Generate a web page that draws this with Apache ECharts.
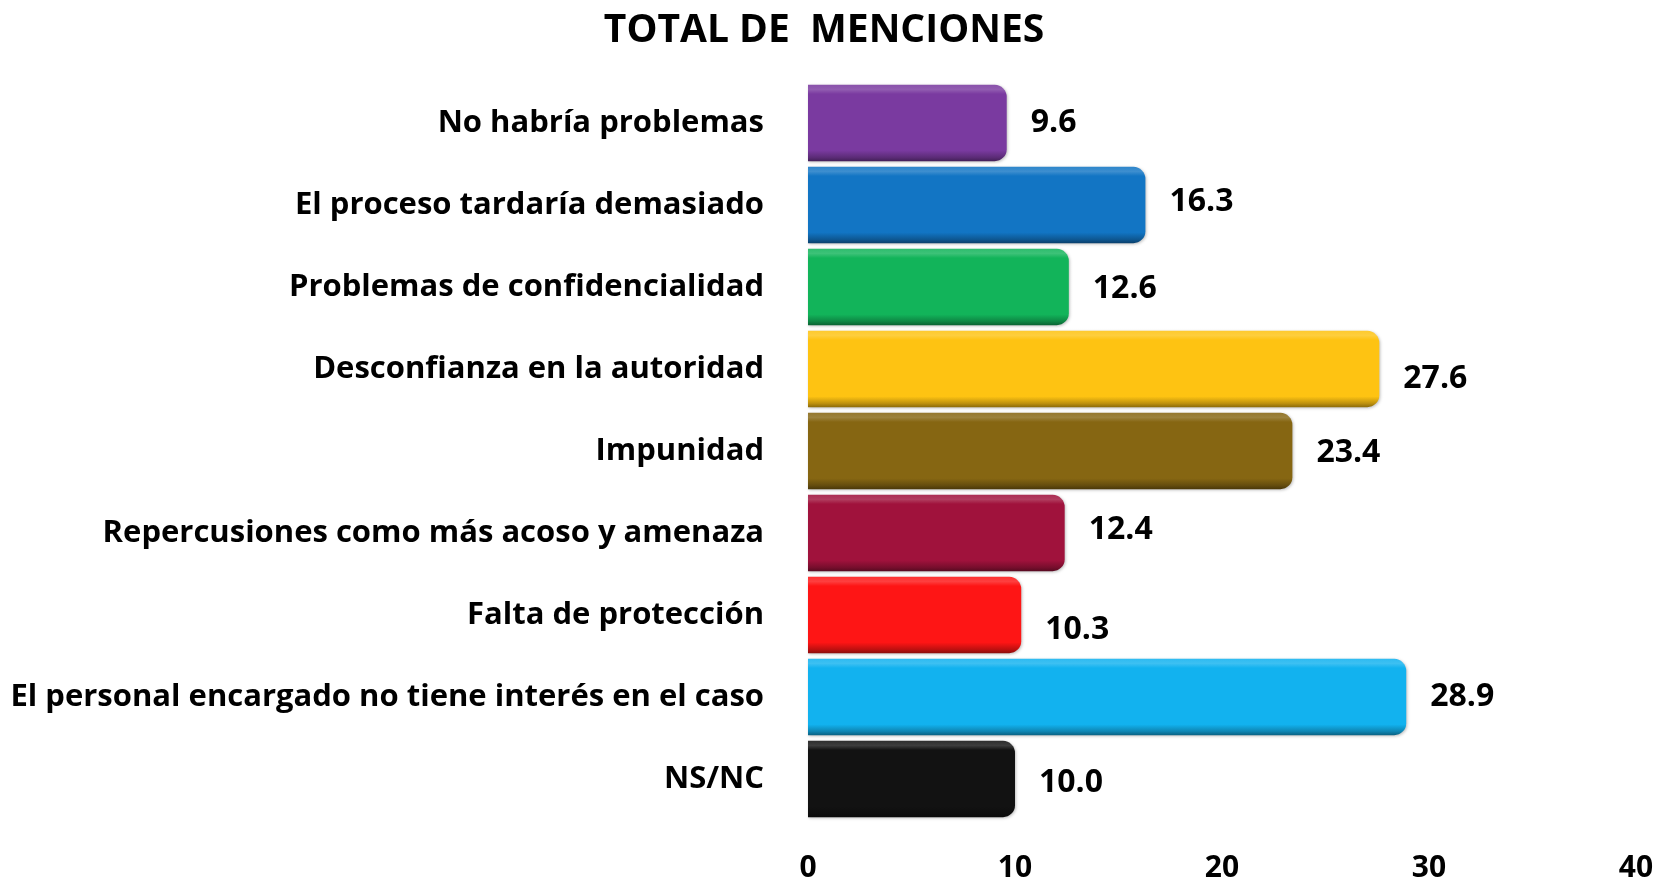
<!DOCTYPE html>
<html>
<head>
<meta charset="utf-8">
<script src="https://cdn.jsdelivr.net/npm/echarts@6/dist/echarts.min.js"></script>
<style>
  html, body { margin: 0; padding: 0; background: #ffffff; }
  #chart { width: 1657px; height: 881px; }
</style>
</head>
<body>
<div id="chart"></div>
<script>
// Reasons for not reporting, share of mentions (%)
const categories = [
  'No habría problemas',
  'El proceso tardaría demasiado',
  'Problemas de confidencialidad',
  'Desconfianza en la autoridad',
  'Impunidad',
  'Repercusiones como más acoso y amenaza',
  'Falta de protección',
  'El personal encargado no tiene interés en el caso',
  'NS/NC'
];
const values = [9.6, 16.3, 12.6, 27.6, 23.4, 12.4, 10.3, 28.9, 10.0];
const xTicks = [0, 10, 20, 30, 40];

// Per-bar fill colours
const barColors = ['#7a3aa0', '#1275c4', '#12b45a', '#fec312', '#866612', '#a0123c', '#fe1515', '#12b2ef', '#121212'];
// Small vertical nudges of the value labels
const labelNudge = [0, -3, 2, 10, 2, -3, 15, 0, 4];

function shade(hex, amt) {
  const n = parseInt(hex.slice(1), 16);
  let r = (n >> 16) & 255, g = (n >> 8) & 255, b = n & 255;
  const f = c => Math.max(0, Math.min(255, Math.round(amt >= 0 ? c + (255 - c) * amt : c * (1 + amt))));
  return 'rgb(' + f(r) + ',' + f(g) + ',' + f(b) + ')';
}

function barFill(c) {
  return new echarts.graphic.LinearGradient(0, 0, 0, 1, [
    { offset: 0, color: shade(c, 0.12) },
    { offset: 0.06, color: shade(c, 0.18) },
    { offset: 0.12, color: c },
    { offset: 0.86, color: c },
    { offset: 0.95, color: shade(c, -0.25) },
    { offset: 1, color: shade(c, -0.45) }
  ]);
}

const FONT = '"Open Sans", "Noto Sans", sans-serif';

const chart = echarts.init(document.getElementById('chart'), null, { renderer: 'canvas' });
chart.setOption({
  animation: false,
  backgroundColor: '#ffffff',
  title: {
    text: 'TOTAL DE  MENCIONES',
    left: 819,
    textAlign: 'center',
    top: 6,
    textStyle: { fontFamily: FONT, fontWeight: 'bold', fontSize: 39, color: '#000' }
  },
  grid: { left: 808, right: 21, top: 82, bottom: 61, containLabel: false, outerBoundsMode: 'none' },
  xAxis: {
    type: 'value',
    min: xTicks[0],
    max: xTicks[xTicks.length - 1],
    interval: xTicks[1] - xTicks[0],
    axisLine: { show: false },
    axisTick: { show: false },
    splitLine: { show: false },
    axisLabel: {
      margin: 33,
      fontFamily: FONT, fontWeight: 'bold', fontSize: 30, color: '#000'
    }
  },
  yAxis: {
    type: 'category',
    inverse: true,
    data: categories,
    axisLine: { show: false },
    axisTick: { show: false },
    axisLabel: {
      margin: 44,
      fontFamily: FONT, fontWeight: 'bold', fontSize: 31, color: '#000'
    }
  },
  series: [{
    type: 'bar',
    barCategoryGap: '7%',
    data: values.map((v, i) => ({
      value: v,
      itemStyle: {
        color: barFill(barColors[i]),
        borderRadius: [0, 12, 12, 0],
        shadowColor: 'rgba(0,0,0,0.25)',
        shadowBlur: 3,
        shadowOffsetX: 1,
        shadowOffsetY: 1
      },
      label: { offset: [0, labelNudge[i]] }
    })),
    label: {
      show: true,
      position: 'right',
      distance: 24,
      formatter: p => p.value.toFixed(1),
      fontFamily: FONT, fontWeight: 'bold', fontSize: 32, color: '#000'
    }
  }]
});
</script>
</body>
</html>
